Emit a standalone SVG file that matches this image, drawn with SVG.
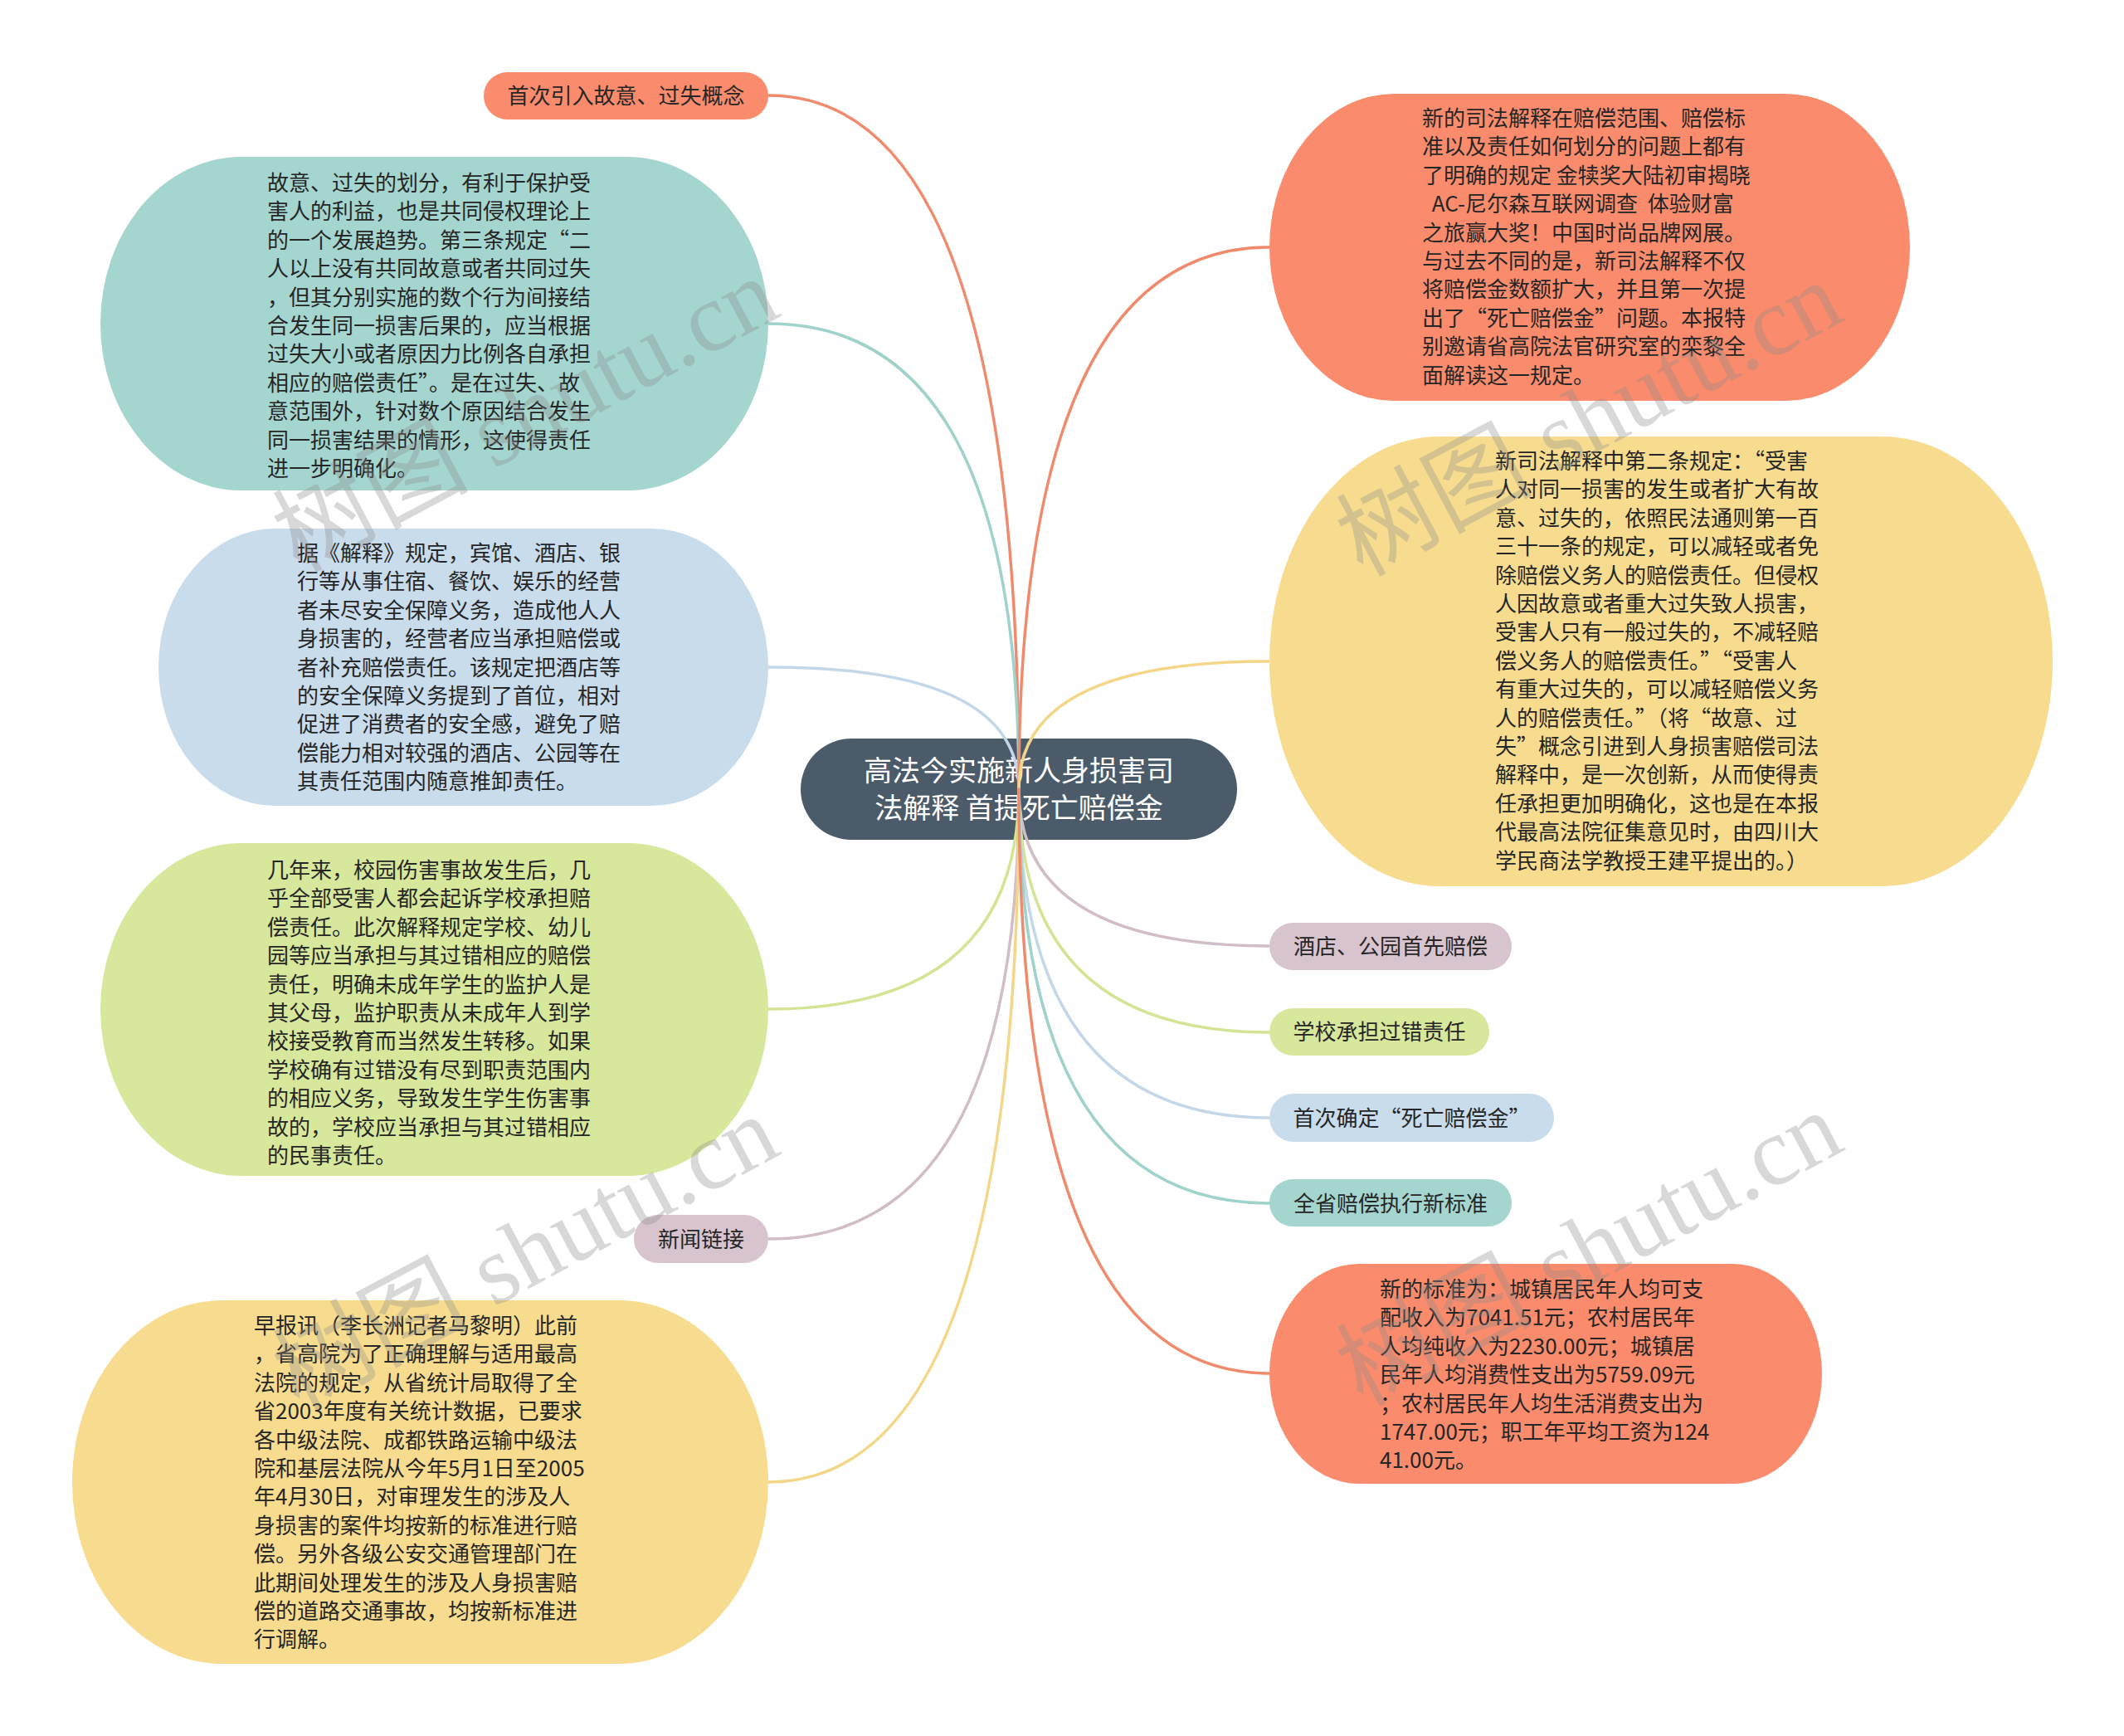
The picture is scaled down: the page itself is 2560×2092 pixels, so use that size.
<svg xmlns="http://www.w3.org/2000/svg" width="2560" height="2092" viewBox="0 0 2560 2092">
<style>
.t{font-family:"Noto Sans CJK SC","Noto Sans",sans-serif;font-size:26px;fill:#262626}
.pt{font-family:"Noto Sans CJK SC","Noto Sans",sans-serif;font-size:26px;fill:#262626;text-anchor:middle}
.root{font-family:"Noto Sans CJK SC","Noto Sans",sans-serif;font-size:34px;fill:#ffffff;text-anchor:middle}
.c{fill:none;stroke-width:3.5;stroke-linecap:round}
.coral{fill:#fa8b6c}.teal{fill:#a4d5cf}.blue{fill:#c9dcec}.green{fill:#d7e79b}.yellow{fill:#f7dc8f}.mauve{fill:#d8c4cf}
.s-coral{stroke:#f08a6c}.s-teal{stroke:#9fd2cb}.s-blue{stroke:#c3d7e9}.s-green{stroke:#d3e494}.s-yellow{stroke:#f3d687}.s-mauve{stroke:#d1bdc8}
.wm{font-family:"Liberation Serif","Noto Sans CJK SC",serif;font-size:118px;fill:#8c8c8c;opacity:0.33;text-anchor:middle}
</style>

<g id="root">
<rect x="965" y="890" width="526" height="122" rx="61" ry="61" fill="#4b5b6a"/>
<text class="root" x="1228" y="941">高法今实施新人身损害司</text>
<text class="root" x="1228" y="986">法解释 首提死亡赔偿金</text>
</g>

<g id="connectors">
<path class="c s-coral" d="M1228 951 Q1228 115 926 115"/>
<path class="c s-teal" d="M1228 951 Q1228 390 926 390"/>
<path class="c s-blue" d="M1228 951 Q1228 804 926 804"/>
<path class="c s-green" d="M1228 951 Q1228 1216 926 1216"/>
<path class="c s-mauve" d="M1228 951 Q1228 1493 926 1493"/>
<path class="c s-yellow" d="M1228 951 Q1228 1786 926 1786"/>
<path class="c s-coral" d="M1228 951 Q1228 298 1530 298"/>
<path class="c s-yellow" d="M1228 951 Q1228 797 1530 797"/>
<path class="c s-mauve" d="M1228 951 Q1228 1140 1530 1140"/>
<path class="c s-green" d="M1228 951 Q1228 1244 1530 1244"/>
<path class="c s-blue" d="M1228 951 Q1228 1347 1530 1347"/>
<path class="c s-teal" d="M1228 951 Q1228 1450 1530 1450"/>
<path class="c s-coral" d="M1228 951 Q1228 1655 1530 1655"/>
</g>

<g id="n-concept">
<rect class="coral" x="583" y="87" width="343" height="57" rx="28.5"/>
<text class="pt" x="754.5" y="125">首次引入故意、过失概念</text>
</g>

<g id="n-fault">
<rect class="teal" x="121" y="189" width="805" height="402" rx="170" ry="201"/>
<text class="t" x="322" y="230">
<tspan x="322">故意、过失的划分，有利于保护受</tspan>
<tspan x="322" dy="34.4">害人的利益，也是共同侵权理论上</tspan>
<tspan x="322" dy="34.4">的一个发展趋势。第三条规定“二</tspan>
<tspan x="322" dy="34.4">人以上没有共同故意或者共同过失</tspan>
<tspan x="322" dy="34.4">，但其分别实施的数个行为间接结</tspan>
<tspan x="322" dy="34.4">合发生同一损害后果的，应当根据</tspan>
<tspan x="322" dy="34.4">过失大小或者原因力比例各自承担</tspan>
<tspan x="322" dy="34.4">相应的赔偿责任”。是在过失、故</tspan>
<tspan x="322" dy="34.4">意范围外，针对数个原因结合发生</tspan>
<tspan x="322" dy="34.4">同一损害结果的情形，这使得责任</tspan>
<tspan x="322" dy="34.4">进一步明确化。</tspan>
</text>
</g>

<g id="n-hotel-detail">
<rect class="blue" x="191" y="637" width="735" height="334" rx="140" ry="167"/>
<text class="t" x="358" y="676">
<tspan x="358">据《解释》规定，宾馆、酒店、银</tspan>
<tspan x="358" dy="34.4">行等从事住宿、餐饮、娱乐的经营</tspan>
<tspan x="358" dy="34.4">者未尽安全保障义务，造成他人人</tspan>
<tspan x="358" dy="34.4">身损害的，经营者应当承担赔偿或</tspan>
<tspan x="358" dy="34.4">者补充赔偿责任。该规定把酒店等</tspan>
<tspan x="358" dy="34.4">的安全保障义务提到了首位，相对</tspan>
<tspan x="358" dy="34.4">促进了消费者的安全感，避免了赔</tspan>
<tspan x="358" dy="34.4">偿能力相对较强的酒店、公园等在</tspan>
<tspan x="358" dy="34.4">其责任范围内随意推卸责任。</tspan>
</text>
</g>

<g id="n-school-detail">
<rect class="green" x="121" y="1016" width="805" height="401" rx="170" ry="200.5"/>
<text class="t" x="322" y="1058">
<tspan x="322">几年来，校园伤害事故发生后，几</tspan>
<tspan x="322" dy="34.4">乎全部受害人都会起诉学校承担赔</tspan>
<tspan x="322" dy="34.4">偿责任。此次解释规定学校、幼儿</tspan>
<tspan x="322" dy="34.4">园等应当承担与其过错相应的赔偿</tspan>
<tspan x="322" dy="34.4">责任，明确未成年学生的监护人是</tspan>
<tspan x="322" dy="34.4">其父母，监护职责从未成年人到学</tspan>
<tspan x="322" dy="34.4">校接受教育而当然发生转移。如果</tspan>
<tspan x="322" dy="34.4">学校确有过错没有尽到职责范围内</tspan>
<tspan x="322" dy="34.4">的相应义务，导致发生学生伤害事</tspan>
<tspan x="322" dy="34.4">故的，学校应当承担与其过错相应</tspan>
<tspan x="322" dy="34.4">的民事责任。</tspan>
</text>
</g>

<g id="n-news">
<rect class="mauve" x="764" y="1464" width="162" height="58" rx="29"/>
<text class="pt" x="845" y="1503">新闻链接</text>
</g>

<g id="n-report">
<rect class="yellow" x="87" y="1567" width="839" height="438" rx="180" ry="219"/>
<text class="t" x="306" y="1607">
<tspan x="306">早报讯（李长洲记者马黎明）此前</tspan>
<tspan x="306" dy="34.4">，省高院为了正确理解与适用最高</tspan>
<tspan x="306" dy="34.4">法院的规定，从省统计局取得了全</tspan>
<tspan x="306" dy="34.4">省2003年度有关统计数据，已要求</tspan>
<tspan x="306" dy="34.4">各中级法院、成都铁路运输中级法</tspan>
<tspan x="306" dy="34.4">院和基层法院从今年5月1日至2005</tspan>
<tspan x="306" dy="34.4">年4月30日，对审理发生的涉及人</tspan>
<tspan x="306" dy="34.4">身损害的案件均按新的标准进行赔</tspan>
<tspan x="306" dy="34.4">偿。另外各级公安交通管理部门在</tspan>
<tspan x="306" dy="34.4">此期间处理发生的涉及人身损害赔</tspan>
<tspan x="306" dy="34.4">偿的道路交通事故，均按新标准进</tspan>
<tspan x="306" dy="34.4">行调解。</tspan>
</text>
</g>

<g id="n-scope">
<rect class="coral" x="1530" y="113" width="772" height="370" rx="150" ry="185"/>
<text class="t" x="1714" y="152">
<tspan x="1714">新的司法解释在赔偿范围、赔偿标</tspan>
<tspan x="1714" dy="34.4">准以及责任如何划分的问题上都有</tspan>
<tspan x="1714" dy="34.4">了明确的规定 金犊奖大陆初审揭晓</tspan>
<tspan x="1714" dy="34.4">&#160;&#160;AC-尼尔森互联网调查&#160;&#160;体验财富</tspan>
<tspan x="1714" dy="34.4">之旅赢大奖！中国时尚品牌网展。</tspan>
<tspan x="1714" dy="34.4">与过去不同的是，新司法解释不仅</tspan>
<tspan x="1714" dy="34.4">将赔偿金数额扩大，并且第一次提</tspan>
<tspan x="1714" dy="34.4">出了“死亡赔偿金”问题。本报特</tspan>
<tspan x="1714" dy="34.4">别邀请省高院法官研究室的栾黎全</tspan>
<tspan x="1714" dy="34.4">面解读这一规定。</tspan>
</text>
</g>

<g id="n-article2">
<rect class="yellow" x="1530" y="526" width="944" height="542" rx="205" ry="271"/>
<text class="t" x="1802" y="565">
<tspan x="1802">新司法解释中第二条规定：“受害</tspan>
<tspan x="1802" dy="34.4">人对同一损害的发生或者扩大有故</tspan>
<tspan x="1802" dy="34.4">意、过失的，依照民法通则第一百</tspan>
<tspan x="1802" dy="34.4">三十一条的规定，可以减轻或者免</tspan>
<tspan x="1802" dy="34.4">除赔偿义务人的赔偿责任。但侵权</tspan>
<tspan x="1802" dy="34.4">人因故意或者重大过失致人损害，</tspan>
<tspan x="1802" dy="34.4">受害人只有一般过失的，不减轻赔</tspan>
<tspan x="1802" dy="34.4">偿义务人的赔偿责任。”“受害人</tspan>
<tspan x="1802" dy="34.4">有重大过失的，可以减轻赔偿义务</tspan>
<tspan x="1802" dy="34.4">人的赔偿责任。”（将“故意、过</tspan>
<tspan x="1802" dy="34.4">失”概念引进到人身损害赔偿司法</tspan>
<tspan x="1802" dy="34.4">解释中，是一次创新，从而使得责</tspan>
<tspan x="1802" dy="34.4">任承担更加明确化，这也是在本报</tspan>
<tspan x="1802" dy="34.4">代最高法院征集意见时，由四川大</tspan>
<tspan x="1802" dy="34.4">学民商法学教授王建平提出的。）</tspan>
</text>
</g>

<g id="n-hotel">
<rect class="mauve" x="1530" y="1112" width="292" height="57" rx="28.5"/>
<text class="pt" x="1676" y="1150">酒店、公园首先赔偿</text>
</g>

<g id="n-school">
<rect class="green" x="1530" y="1215" width="265" height="57" rx="28.5"/>
<text class="pt" x="1662.5" y="1253">学校承担过错责任</text>
</g>

<g id="n-death">
<rect class="blue" x="1530" y="1318" width="343" height="58" rx="29"/>
<text class="pt" x="1701.5" y="1357">首次确定“死亡赔偿金”</text>
</g>

<g id="n-standard">
<rect class="teal" x="1530" y="1421" width="292" height="57" rx="28.5"/>
<text class="pt" x="1676" y="1460">全省赔偿执行新标准</text>
</g>

<g id="n-numbers">
<rect class="coral" x="1530" y="1523" width="666" height="265" rx="108" ry="132.5"/>
<text class="t" x="1663" y="1563">
<tspan x="1663">新的标准为：城镇居民年人均可支</tspan>
<tspan x="1663" dy="34.4">配收入为7041.51元；农村居民年</tspan>
<tspan x="1663" dy="34.4">人均纯收入为2230.00元；城镇居</tspan>
<tspan x="1663" dy="34.4">民年人均消费性支出为5759.09元</tspan>
<tspan x="1663" dy="34.4">；农村居民年人均生活消费支出为</tspan>
<tspan x="1663" dy="34.4">1747.00元；职工年平均工资为124</tspan>
<tspan x="1663" dy="34.4">41.00元。</tspan>
</text>
</g>

<g id="watermarks">
<text class="wm" transform="translate(652 535) rotate(-28)">树图 shutu.cn</text>
<text class="wm" transform="translate(1934 540) rotate(-28)">树图 shutu.cn</text>
<text class="wm" transform="translate(652 1545) rotate(-28)">树图 shutu.cn</text>
<text class="wm" transform="translate(1934 1540) rotate(-28)">树图 shutu.cn</text>
</g>
</svg>
